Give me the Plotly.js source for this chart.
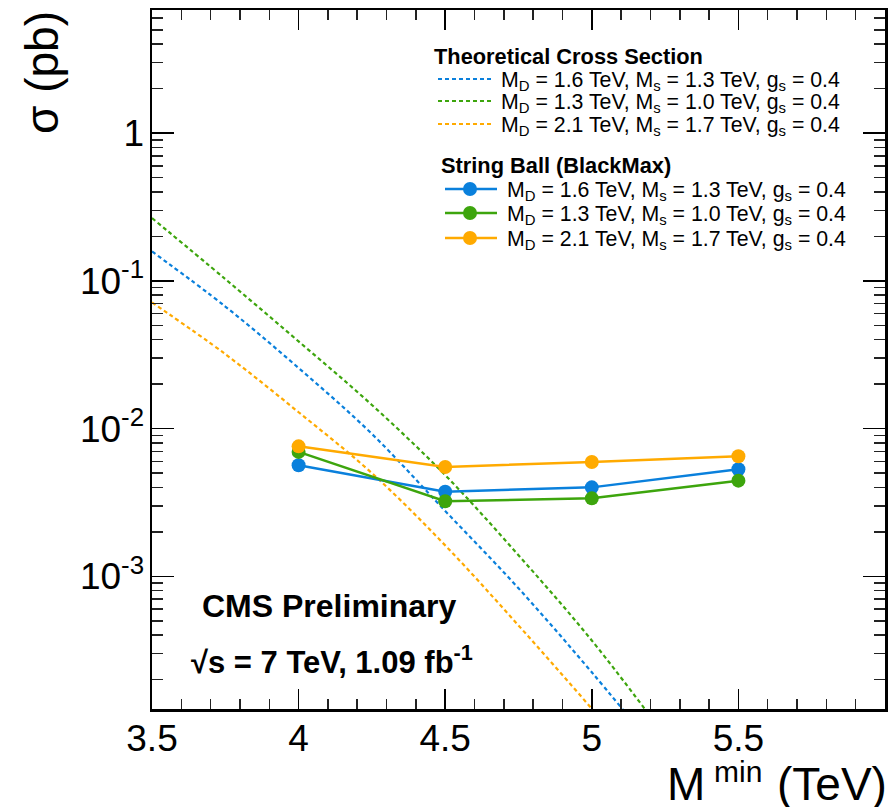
<!DOCTYPE html>
<html>
<head>
<meta charset="utf-8">
<script src="https://cdn.plot.ly/plotly-3.0.1.min.js"></script>
<style>
  html, body { margin: 0; padding: 0; background: #fff; }
  #chart { width: 890px; height: 807px; }
</style>
</head>
<body>
<div id="chart"></div>
<script>
// Minimum black-hole mass (TeV) at which the string-ball limits were computed
const massPoints = [4.0, 4.5, 5.0, 5.5];
// String Ball (BlackMax) cross-section limits, pb
const sbBlue   = [5.64e-3, 3.74e-3, 4.00e-3, 5.30e-3];
const sbGreen  = [6.95e-3, 3.22e-3, 3.37e-3, 4.44e-3];
const sbOrange = [7.58e-3, 5.50e-3, 5.94e-3, 6.49e-3];

// Theoretical cross sections, pb
const theoryMass   = [3.5, 3.75, 4.0, 4.25, 4.5, 4.75, 5.0, 5.25];
const theoryBlue   = [0.158, 0.0670, 0.0257, 9.2e-3, 2.77e-3, 8.3e-4, 2.24e-4, 5.6e-5];
const theoryGreen  = [0.266, 0.1028, 0.0389, 0.01445, 4.84e-3, 1.39e-3, 3.68e-4, 8.3e-5];
const theoryOrange = [0.0714, 0.0319, 0.0129, 4.99e-3, 1.62e-3, 4.65e-4, 1.27e-4, 3.3e-5];

const modelLabels = [
  'M<sub>D</sub> = 1.6 TeV, M<sub>s</sub> = 1.3 TeV, g<sub>s</sub> = 0.4',
  'M<sub>D</sub> = 1.3 TeV, M<sub>s</sub> = 1.0 TeV, g<sub>s</sub> = 0.4',
  'M<sub>D</sub> = 2.1 TeV, M<sub>s</sub> = 1.7 TeV, g<sub>s</sub> = 0.4'
];
const modelColors = ['#0a80dc', '#3da50d', '#ffaa00'];
const theoryHeader = 'Theoretical Cross Section';
const limitHeader = 'String Ball (BlackMax)';

const xTickVals = [3.5, 4.0, 4.5, 5.0, 5.5];
const xTickText = ['3.5', '4', '4.5', '5', '5.5'];
const yTickVals = [1e-3, 1e-2, 1e-1, 1];
const yTickText = ['10<sup>-3</sup>', '10<sup>-2</sup>', '10<sup>-1</sup>', '1'];

const FONT = 'Liberation Sans, Arial, Helvetica, sans-serif';

// frame of the plotting area in page pixels
const W = 890, H = 807;
const PL = 152, PR = 885, PT = 10, PB = 709;
const px = x => (x - PL) / (PR - PL);
const py = y => (PB - y) / (PB - PT);

const X_RANGE = [3.5, 6.0];
const Y_RANGE = [-3.898, 0.833];

// minor tick positions: every 0.1 TeV, and 2..9 within each decade
const xMinor = [];
for (let i = 36; i < 60; i++) if (i % 5 !== 0) xMinor.push(i / 10);
const yMinor = [];
for (let d = -4; d <= 0; d++) for (let k = 2; k <= 9; k++) yMinor.push(k * Math.pow(10, d));

const theorySeries = [theoryBlue, theoryGreen, theoryOrange];
const limitSeries = [sbBlue, sbGreen, sbOrange];

const traces = [];
// carrier for the minor-tick axes
traces.push({ x: [], y: [], xaxis: 'x2', yaxis: 'y2', type: 'scatter', mode: 'lines', showlegend: false, hoverinfo: 'skip' });
theorySeries.forEach((vals, i) => {
  traces.push({
    x: theoryMass, y: vals, type: 'scatter', mode: 'lines',
    line: { color: modelColors[i], width: 2.2, dash: '4px,3px', shape: 'spline', smoothing: 1 },
    hoverinfo: 'skip', showlegend: false
  });
});
limitSeries.forEach((vals, i) => {
  traces.push({
    x: massPoints, y: vals, type: 'scatter', mode: 'lines+markers',
    line: { color: modelColors[i], width: 2.5 },
    marker: { color: modelColors[i], size: 14, symbol: 'circle' },
    hoverinfo: 'skip', showlegend: false
  });
});

const shapes = [];
const annotations = [];
const note = (x, y, text, size, opts) => annotations.push(Object.assign({
  xref: 'paper', yref: 'paper', x: px(x), y: py(y), xanchor: 'left', yanchor: 'middle',
  text: text, showarrow: false, font: { family: FONT, size: size, color: '#000' }
}, opts || {}));

// legend: theoretical curves
note(432, 57, '<b>' + theoryHeader + '</b>', 21.8);
const theoryRows = [79, 101, 124];
theoryRows.forEach((ry, i) => {
  shapes.push({
    type: 'line', xref: 'paper', yref: 'paper',
    x0: px(438), x1: px(492), y0: py(ry), y1: py(ry),
    line: { color: modelColors[i], width: 2.2, dash: '4px,3px' }
  });
  note(499, ry + 2, modelLabels[i], 21.3);
});

// legend: string-ball limits
note(439, 165, '<b>' + limitHeader + '</b>', 21.8);
const limitRows = [189, 213, 238];
limitRows.forEach((ry, i) => {
  shapes.push({
    type: 'line', xref: 'paper', yref: 'paper',
    x0: px(445), x1: px(497), y0: py(ry), y1: py(ry),
    line: { color: modelColors[i], width: 2.5 }
  });
  shapes.push({
    type: 'circle', xref: 'paper', yref: 'paper',
    xsizemode: 'pixel', ysizemode: 'pixel',
    xanchor: px(470), yanchor: py(ry),
    x0: -7, x1: 7, y0: -7, y1: 7,
    fillcolor: modelColors[i], line: { width: 0 }
  });
  note(505, ry + 2, modelLabels[i], 21.3);
});

// experiment labels
note(329, 606, '<b>CMS Preliminary</b>', 32, { xanchor: 'center' });
note(332, 660, '<b>\u221As = 7 TeV, 1.09 fb<sup>-1</sup></b>', 31, { xanchor: 'center' });

// x-axis title, built from three pieces so the superscript sits clear of the tick labels
note(665, 784, 'M', 46, { height: 46 });
note(712, 771, 'min', 30, { height: 28 });
note(889, 784, '(TeV)', 46, { xanchor: 'right', height: 46 });
// y-axis title
note(42, 73, '\u03C3 (pb)', 46, { xanchor: 'center', textangle: -90 });

const frameAxis = {
  ticks: 'inside', tickwidth: 1.5, tickcolor: '#000',
  showline: true, linewidth: 2.5, linecolor: '#000', mirror: 'ticks',
  showgrid: false, zeroline: false,
  tickfont: { family: FONT, size: 37, color: '#000' }
};

const layout = {
  width: W, height: H,
  margin: { l: PL, r: W - PR, t: PT, b: H - PB },
  paper_bgcolor: '#fff', plot_bgcolor: '#fff',
  showlegend: false,
  font: { family: FONT, color: '#000' },
  xaxis: Object.assign({}, frameAxis, {
    range: X_RANGE, tickmode: 'array', tickvals: xTickVals, ticktext: xTickText,
    ticklen: 20, ticklabelstandoff: -5
  }),
  yaxis: Object.assign({}, frameAxis, {
    type: 'log', range: Y_RANGE,
    tickmode: 'array', tickvals: yTickVals, ticktext: yTickText,
    ticklen: 22, ticklabelstandoff: -2
  }),
  // minor ticks
  xaxis2: {
    overlaying: 'x', anchor: 'y2', range: X_RANGE,
    tickmode: 'array', tickvals: xMinor, showticklabels: false,
    ticks: 'inside', ticklen: 10, tickwidth: 1.5, tickcolor: '#222',
    mirror: 'ticks', showline: false, showgrid: false, zeroline: false
  },
  yaxis2: {
    overlaying: 'y', anchor: 'x2', type: 'log', range: Y_RANGE,
    tickmode: 'array', tickvals: yMinor, showticklabels: false,
    ticks: 'inside', ticklen: 11, tickwidth: 1.5, tickcolor: '#222',
    mirror: 'ticks', showline: false, showgrid: false, zeroline: false
  },
  shapes: shapes,
  annotations: annotations
};

Plotly.newPlot('chart', traces, layout, { displayModeBar: false, staticPlot: true });
</script>
</body>
</html>
